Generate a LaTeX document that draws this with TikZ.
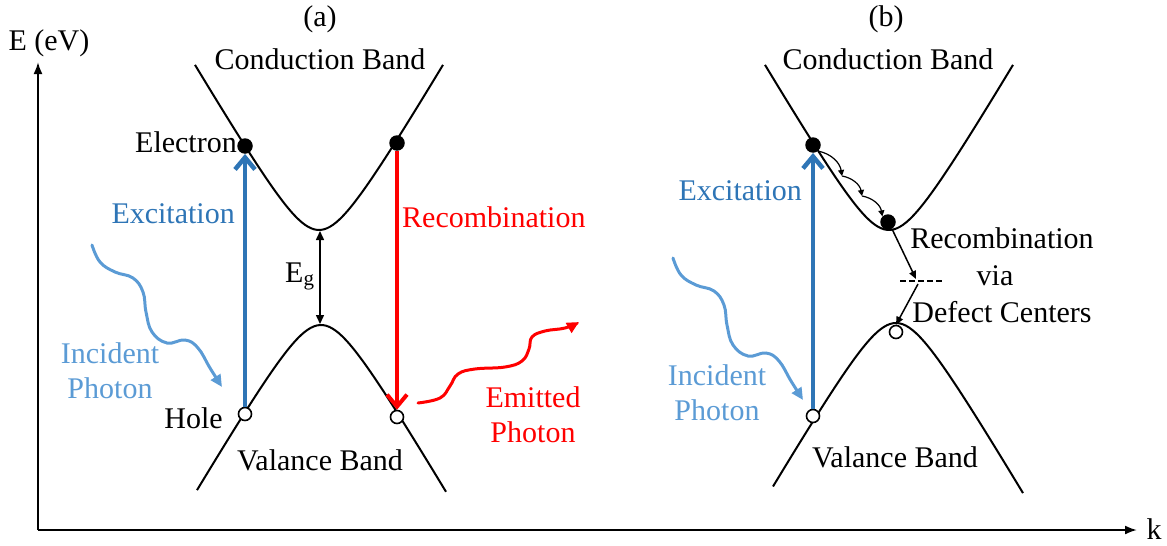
\documentclass[tikz,border=0pt]{standalone}
\usepackage{fontspec}
\setmainfont{Liberation Serif}
\usetikzlibrary{arrows.meta}
\definecolor{exblue}{HTML}{2E75B6}
\definecolor{phblue}{HTML}{5B9BD5}
\definecolor{rred}{HTML}{FF0000}
\begin{document}
\begin{tikzpicture}[x=1pt,y=-1pt,
  every node/.style={font=\fontsize{30}{36}\selectfont, inner sep=0pt},
  lbl/.style={anchor=base},
  band/.style={line width=2pt},
  edot/.style={circle, fill=black, minimum size=15.5pt, inner sep=0pt},
  hdot/.style={circle, draw=black, fill=white, line width=1.6pt, minimum size=13pt, inner sep=0pt},
  axis/.style={line width=2pt, -{Latex[length=12pt,width=9pt]}},
  excite/.style={exblue, line width=4.5pt, -{Straight Barb[length=12pt,width=20pt]}},
  recomb/.style={rred, line width=4pt, -{Straight Barb[length=12pt,width=20pt]}},
  photonin/.style={phblue, line width=3pt, line cap=round, -{Triangle[length=12pt,width=11pt]}},
  photonout/.style={rred, line width=3pt, line cap=round, -{Triangle[length=12pt,width=11pt]}},
  gaparrow/.style={line width=1.5pt, {Triangle[length=9pt,width=8pt]}-{Triangle[length=9pt,width=8pt]}},
  defarrow/.style={line width=1.5pt, -{Triangle[length=8pt,width=7pt]}},
  hoparrow/.style={line width=1.2pt, -{Triangle[length=6pt,width=6pt]}}
]
\useasboundingbox (0,0) rectangle (1167,546);

% axes
\coordinate (O) at (38,530);
\coordinate (Ytop) at (38,62);
\coordinate (Xend) at (1137,530);
\draw[axis] (O) -- (Ytop);
\draw[axis] (O) -- (Xend);
\node[lbl] (elab) at (49,50) {E (eV)};
\node[lbl] (klab) at (1154,539) {k};

% bands (a)
\draw[band] plot[domain=-124:124, samples=80, smooth] ({319+\x},{230-10*(sqrt(27.04+(0.17*\x)^2)-5.2)});
\draw[band] plot[domain=-124:125, samples=80, smooth] ({321+\x},{325+10*(sqrt(27.04+(0.17*\x)^2)-5.2)});
% bands (b)
\draw[band] plot[domain=-124:124, samples=80, smooth] ({889+\x},{230-10*(sqrt(27.04+(0.17*\x)^2)-5.2)});
\draw[band] plot[domain=-123:127, samples=80, smooth] ({896+\x},{323+10*(sqrt(27.04+(0.17*\x)^2)-5.2)});

% titles
\node[lbl] (ta) at (320,26) {(a)};
\node[lbl] (tb) at (886,26) {(b)};
\node[lbl] (cba) at (320,69) {Conduction Band};
\node[lbl] (cbb) at (888,69) {Conduction Band};
\node[lbl] (vba) at (320,470) {Valance Band};
\node[lbl] (vbb) at (895,467) {Valance Band};

% carriers (a)
\node[edot] (e1) at (245,146) {};
\node[edot] (e2) at (397,143) {};
\node[hdot] (h1) at (245,414) {};
\node[hdot] (h2) at (397,417) {};
% carriers (b)
\node[edot] (e3) at (813,145) {};
\node[edot] (e4) at (888,222) {};
\node[hdot] (h3) at (813,416) {};
\node[hdot] (h4) at (896,332) {};

% labels (a)
\node[lbl, anchor=base east] (elec) at (237,152) {Electron};
\node[lbl, anchor=base east] (hole) at (223,428) {Hole};
\node[lbl, anchor=base east, text=exblue] (exa) at (235,223) {Excitation};
\node[lbl, anchor=base west, text=rred] (rea) at (402,227) {Recombination};
\node[lbl, anchor=base west] (eg) at (285,282) {E\textsubscript{g}};
\node[lbl, text=phblue] (ia1) at (110,363) {Incident};
\node[lbl, text=phblue] (ia2) at (110,398) {Photon};
\node[lbl, text=rred] (em1) at (533,407) {Emitted};
\node[lbl, text=rred] (em2) at (533,442) {Photon};

% labels (b)
\node[lbl, anchor=base east, text=exblue] (exb) at (802,200) {Excitation};
\node[lbl, text=phblue] (ib1) at (717,385) {Incident};
\node[lbl, text=phblue] (ib2) at (717,420) {Photon};
\node[lbl] (rb1) at (1002,248) {Recombination};
\node[lbl] (rb2) at (995,285) {via};
\node[lbl] (rb3) at (1002,322) {Defect Centers};

% arrows (a)
\draw[excite] (h1.north) -- (e1.south);
\draw[recomb] (e2.south) -- (h2.north);
\coordinate (cbmin) at (320,231);
\coordinate (vbmax) at (320,324);
\draw[gaparrow] (cbmin) -- (vbmax);

% photons
\draw[photonin] plot[smooth, tension=0.7] coordinates {(92,245) (100,262) (115,272) (133,278) (143,292) (146,312) (152,332) (167,343) (185,340) (198,348) (210,368) (222,387)};
\begin{scope}[shift={(581,13)}]
\draw[photonin] plot[smooth, tension=0.7] coordinates {(92,245) (100,262) (115,272) (133,278) (143,292) (146,312) (152,332) (167,343) (185,340) (198,348) (210,368) (222,387)};
\end{scope}
\draw[photonout] plot[smooth, tension=0.7] coordinates {(418,403) (440,398) (450,386) (458,374) (475,369) (505,367) (522,361) (529,349) (532,337) (545,331) (565,328) (579,322)};

% arrows (b)
\draw[excite] (h3.north) -- (e3.south);
\coordinate (p1) at (842,176);
\coordinate (p2) at (862,196);
\draw[hoparrow] (e3.-50) to[bend left=35] (p1);
\draw[hoparrow] (p1) to[bend left=35] (p2);
\draw[hoparrow] (p2) to[bend left=35] (e4.135);
\coordinate (d1) at (916,279);
\coordinate (d2) at (918,284);
\coordinate (dl) at (900,281);
\coordinate (dr) at (942,281);
\draw[defarrow] (e4.-60) -- (d1);
\draw[line width=1.5pt, dash pattern=on 6pt off 3pt] (dl) -- (dr);
\draw[defarrow] (d2) -- (h4.north);
\end{tikzpicture}
\end{document}
